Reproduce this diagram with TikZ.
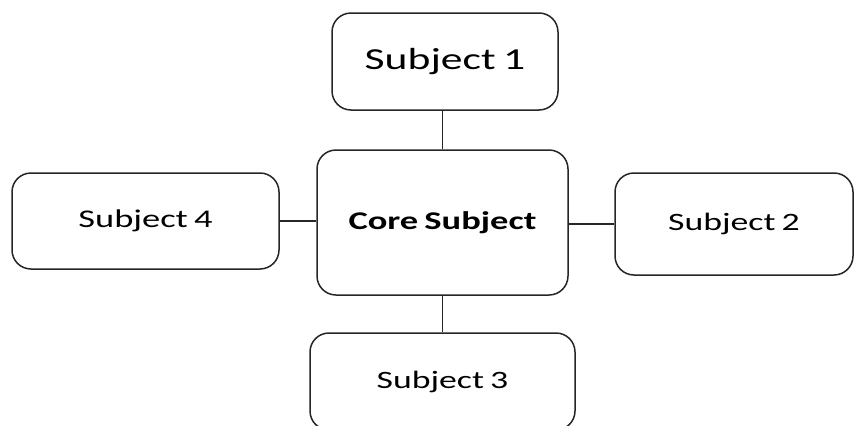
\documentclass[tikz,border=0pt]{standalone}
\usepackage{fontspec}
\usepackage{graphicx}
\setmainfont{Carlito}
\newcommand{\wide}[1]{\scalebox{1.43}[1]{#1}}
\newcommand{\tightsp}{\hspace{0.17em}}
\begin{document}
\begin{tikzpicture}[x=1pt,y=-1pt,
  box/.style={draw=black!85, line width=1.5pt, rounded corners=19pt, inner sep=0pt, fill=white},
  link/.style={draw=black!85, line width=1.5pt}]
\useasboundingbox (0,0) rectangle (855,426);
\clip (0,0) rectangle (855,426);
\node[box, minimum width=226pt, minimum height=97pt] (s1) at (445,61.5)
  {\fontsize{30.5}{34}\selectfont\wide{Subject\tightsp1}};
\node[box, minimum width=251pt, minimum height=145pt] (core) at (442.5,222.5)
  {\fontsize{25.5}{30}\selectfont\bfseries\wide{Core\tightsp Subject}};
\node[box, minimum width=267pt, minimum height=96pt] (s4) at (145.5,221)
  {\fontsize{25.5}{30}\selectfont\wide{Subject\tightsp4}};
\node[box, minimum width=238pt, minimum height=102pt] (s2) at (734,224)
  {\fontsize{25}{30}\selectfont\wide{Subject\tightsp2}};
\node[box, minimum width=265pt, minimum height=97pt] (s3) at (442.5,381.5)
  {\fontsize{25}{30}\selectfont\wide{Subject\tightsp3}};
\draw[link] (core.north) -- (core.north |- s1.south);
\draw[link] (core.south) -- (core.south |- s3.north);
\draw[link] (s4.east) -- (s4.east -| core.west);
\draw[link] (core.east |- s2.west) -- (s2.west);
\end{tikzpicture}
\end{document}
